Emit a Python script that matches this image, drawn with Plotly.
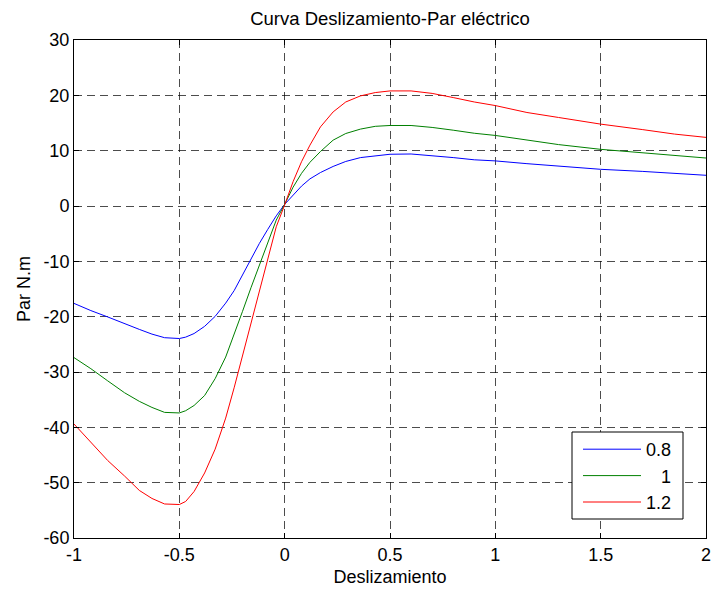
import plotly.graph_objects as go

slip = [-1.0, -0.92, -0.84, -0.76, -0.69, -0.63, -0.57, -0.5, -0.47, -0.43, -0.38, -0.33,
        -0.28, -0.24, -0.2, -0.16, -0.12, -0.08, -0.04, 0.0, 0.04, 0.08, 0.12, 0.17, 0.23,
        0.29, 0.36, 0.43, 0.5, 0.6, 0.7, 0.8, 0.9, 1.0, 1.15, 1.3, 1.5, 1.7, 1.85, 2.0]

par_08 = [-17.6, -18.9, -20.05, -21.3, -22.3, -23.15, -23.8, -23.95, -23.7, -23.05, -21.75, -19.95,
          -17.55, -15.3, -12.4, -9.4, -6.76, -4.21, -1.78, 0.3, 1.95, 3.6, 4.9, 6.05, 7.15,
          8.05, 8.75, 9.1, 9.35, 9.4, 9.1, 8.75, 8.35, 8.15, 7.65, 7.2, 6.63, 6.25, 5.9, 5.55]

par_10 = [-27.4, -29.4, -31.6, -33.75, -35.3, -36.4, -37.3, -37.4, -37.0, -36.05, -34.25, -31.2,
          -27.3, -23.3, -19.04, -14.78, -10.7, -6.37, -2.55, 0.3, 3.4, 5.9, 7.9, 9.85, 11.9,
          13.1, 13.9, 14.4, 14.55, 14.55, 14.2, 13.7, 13.15, 12.75, 11.95, 11.1, 10.24, 9.6, 9.03, 8.67]

par_12 = [-39.4, -42.7, -46.0, -48.8, -51.4, -52.85, -53.85, -53.95, -53.4, -51.6, -48.25, -43.94,
          -38.33, -32.86, -27.0, -21.4, -15.56, -9.46, -3.76, 0.2, 4.4, 8.0, 11.0, 14.3, 17.0,
          18.8, 19.9, 20.5, 20.8, 20.8, 20.35, 19.6, 18.8, 18.15, 16.9, 16.0, 14.8, 13.8, 13.0, 12.4]

series_names = ["0.8", "\u2007\u20081", "1.2"]
series_values = [par_08, par_10, par_12]
series_colors = ["#0000ff", "#008000", "#ff0000"]

x_ticks = [-1, -0.5, 0, 0.5, 1, 1.5, 2]
x_ticklabels = ["-1", "-0.5", "0", "0.5", "1", "1.5", "2"]
y_ticks = [-60, -50, -40, -30, -20, -10, 0, 10, 20, 30]
y_ticklabels = [str(v) for v in y_ticks]

fig = go.Figure()
for name, vals, col in zip(series_names, series_values, series_colors):
    fig.add_trace(go.Scatter(x=slip, y=vals, mode="lines", name=name,
                             line=dict(color=col, width=1)))

font_family = "Liberation Sans, Arial, Helvetica, sans-serif"
axis_common = dict(
    showline=True, linecolor="black", linewidth=1, mirror="ticks",
    ticks="inside", ticklen=5, tickcolor="black",
    showgrid=True, gridcolor="rgba(0,0,0,0.7)", gridwidth=1, griddash="8px,5px",
    zeroline=False, automargin=False,
    tickfont=dict(size=18, color="black", family=font_family),
)

# plot area in pixels: x 74..706, y 40..538
def px_x(p):
    return (p - 74) / 632

def px_y(p):
    return (538 - p) / 498

# legend frame (white box with black border, as in the reference)
fig.add_shape(type="rect", xref="paper", yref="paper",
              x0=px_x(572), x1=px_x(683), y0=px_y(519), y1=px_y(432),
              line=dict(color="black", width=1), fillcolor="white", layer="above")

fig.update_layout(
    width=715, height=592,
    margin=dict(l=74, r=9, t=40, b=54, autoexpand=False),
    paper_bgcolor="white", plot_bgcolor="white",
    font=dict(family=font_family, size=18, color="black"),
    title=dict(text="Curva Deslizamiento-Par eléctrico", x=390 / 715, xanchor="center",
               y=1 - 19 / 592, yanchor="middle", font=dict(size=18.5, color="black")),
    xaxis=dict(range=[-1, 2], tickvals=x_ticks, ticktext=x_ticklabels,
               title=dict(text="Deslizamiento", font=dict(size=18), standoff=6), **axis_common),
    yaxis=dict(range=[-60, 30], tickvals=y_ticks, ticktext=y_ticklabels,
               title=dict(text="Par N.m", font=dict(size=18), standoff=8), **axis_common),
    legend=dict(x=px_x(578), y=px_y(476),
                xanchor="left", yanchor="middle",
                bgcolor="rgba(0,0,0,0)", borderwidth=0,
                font=dict(size=18, color="black"), itemwidth=58, tracegroupgap=0),
    showlegend=True,
)

fig.write_html("out.html")
